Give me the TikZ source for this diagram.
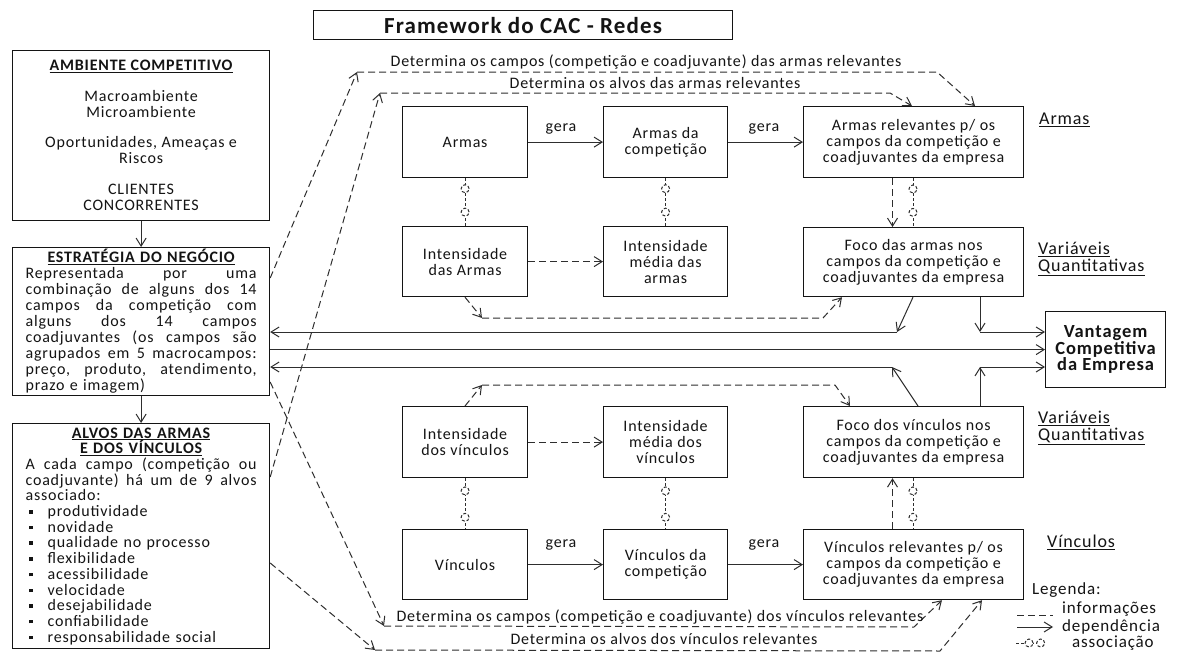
\documentclass[tikz,border=0pt]{standalone}
\usepackage{fontspec}
\setmainfont{Carlito}[LetterSpace=5]
\usetikzlibrary{arrows.meta,calc}
\definecolor{ink}{HTML}{141414}
\definecolor{wire}{HTML}{2E2E2E}
% justified line: every word gap stretches by the same amount
\newcommand\jsp{\hspace{0.25em plus 1fil}}
\newcommand\jline[1]{\leavevmode\hbox to 231pt{#1}}
\newcommand\ctrline[1]{\leavevmode\hbox to 231pt{\hfil#1\hfil}}
\newcommand\hd[1]{\textbf{\underline{#1}}}
\newcommand\bul{\makebox[22pt][l]{\hspace{3.5pt}\raisebox{3pt}{\rule{3.5pt}{3.5pt}}}}

\tikzset{
  basefont/.style={font=\fontsize{16}{16}\selectfont, text=ink},
  box/.style={basefont, draw=ink, line width=1.2pt, fill=white, anchor=north west,
              inner sep=0pt, align=center},
  panel/.style={box, inner xsep=13pt, inner ysep=0pt, text width=231pt, align=left},
  lbl/.style={basefont, inner sep=0pt},
  side/.style={font=\fontsize{18}{17}\selectfont, text=ink, inner sep=0pt, anchor=west, align=left},
  legtext/.style={font=\fontsize{17}{17}\selectfont, text=ink, inner sep=0pt, anchor=west},
  tipstyle/.style={-{Straight Barb[length=8pt,width=10pt]}},
  dep/.style={draw=wire, line width=1pt, tipstyle},
  info/.style={draw=wire, line width=1pt, dash pattern=on 7pt off 4pt, tipstyle},
  infoline/.style={draw=wire, line width=1pt, dash pattern=on 7pt off 4pt},
  assoc/.style={draw=wire, line width=1pt, dash pattern=on 3pt off 2pt},
  ring/.style={circle, draw=wire, line width=1pt, fill=white, minimum size=8pt, inner sep=0pt},
}

\begin{document}
\begin{tikzpicture}[x=1pt, y=-1pt]
\fill[white] (0,0) rectangle (1179,653);
\useasboundingbox (0,0) rectangle (1179,653);

% ---------- title ----------
\node[box, minimum width=419pt, minimum height=29pt,
      font=\fontsize{23}{25}\selectfont\bfseries] (title) at (313,10) {Framework do CAC - Redes};

% ---------- left column ----------
\node[box, minimum width=257pt, minimum height=170pt] (amb) at (12,50)
  {\hd{AMBIENTE COMPETITIVO}\\[15pt]
   Macroambiente\\ Microambiente\\[14pt]
   Oportunidades, Ameaças e\\ Riscos\\[15pt]
   CLIENTES\\ CONCORRENTES};

\node[panel, minimum height=148pt] (estr) at (12,247)
  {\ctrline{\hd{ESTRATÉGIA DO NEGÓCIO}}\\
   \jline{Representada\jsp por\jsp uma}\\
   \jline{combinação\jsp de\jsp alguns\jsp dos\jsp 14}\\
   \jline{campos\jsp da\jsp competição\jsp com}\\
   \jline{alguns\jsp dos\jsp 14\jsp campos}\\
   \jline{coadjuvantes\jsp (os\jsp campos\jsp são}\\
   \jline{agrupados\jsp em\jsp 5\jsp macrocampos:}\\
   \jline{preço,\jsp produto,\jsp atendimento,}\\
   prazo e imagem)};

\node[panel, minimum height=225pt, font=\fontsize{16}{15.7}\selectfont] (alvos) at (12,423)
  {\ctrline{\hd{ALVOS DAS ARMAS}}\\
   \ctrline{\hd{E DOS VÍNCULOS}}\\
   \jline{A\jsp cada\jsp campo\jsp (competição\jsp ou}\\
   \jline{coadjuvante)\jsp há\jsp um\jsp de\jsp 9\jsp alvos}\\
   associado:\\
   \bul produtividade\\
   \bul novidade\\
   \bul qualidade no processo\\
   \bul flexibilidade\\
   \bul acessibilidade\\
   \bul velocidade\\
   \bul desejabilidade\\
   \bul confiabilidade\\
   \bul responsabilidade social};

% ---------- armas block ----------
\node[box, minimum width=125pt, minimum height=71pt] (armas) at (402,106) {Armas};
\node[box, minimum width=124pt, minimum height=71pt] (armascomp) at (603,106) {Armas da\\ competição};
\node[box, minimum width=220pt, minimum height=71pt] (armasrel) at (803,106)
  {Armas relevantes p/ os\\ campos da competição e\\ coadjuvantes da empresa};
\node[box, minimum width=125pt, minimum height=70pt] (intarmas) at (402,226) {Intensidade\\ das Armas};
\node[box, minimum width=124pt, minimum height=70pt] (intmedarmas) at (603,226) {Intensidade\\ média das\\ armas};
\node[box, minimum width=220pt, minimum height=69pt] (focoarmas) at (803,227)
  {Foco das armas nos\\ campos da competição e\\ coadjuvantes da empresa};

% ---------- vinculos block ----------
\node[box, minimum width=125pt, minimum height=71pt] (intvinc) at (402,406) {Intensidade\\ dos vínculos};
\node[box, minimum width=124pt, minimum height=71pt] (intmedvinc) at (603,406) {Intensidade\\ média dos\\ vínculos};
\node[box, minimum width=220pt, minimum height=71pt] (focovinc) at (803,406)
  {Foco dos vínculos nos\\ campos da competição e\\ coadjuvantes da empresa};
\node[box, minimum width=125pt, minimum height=70pt] (vinc) at (402,529) {Vínculos};
\node[box, minimum width=124pt, minimum height=70pt] (vinccomp) at (603,529) {Vínculos da\\ competição};
\node[box, minimum width=220pt, minimum height=70pt] (vincrel) at (803,529)
  {Vínculos relevantes p/ os\\ campos da competição e\\ coadjuvantes da empresa};

% ---------- result ----------
\node[box, minimum width=120pt, minimum height=76pt,
      font=\fontsize{18.5}{16.5}\selectfont\bfseries] (vant) at (1045,311)
  {Vantagem\\ Competitiva\\ da Empresa};

% ---------- side captions ----------
\node[side] (capA) at (1039,120) {\underline{Armas}};
\node[side] (capQ1) at (1038,259) {\underline{Variáveis}\\ \underline{Quantitativas}};
\node[side] (capQ2) at (1038,428) {\underline{Variáveis}\\ \underline{Quantitativas}};
\node[side] (capV) at (1047,542) {\underline{Vínculos}};

% ---------- dependencies ----------
\draw[dep] (amb) -- (estr);
\draw[dep] (estr) -- (alvos);
\draw[dep] (armas) -- (armascomp);
\draw[dep] (armascomp) -- (armasrel);
\draw[dep] (vinc) -- (vinccomp);
\draw[dep] (vinccomp) -- (vincrel);
\node[lbl] (gera1) at (561,129) {gera};
\node[lbl] (gera2) at (764,129) {gera};
\node[lbl] (gera3) at (561,545) {gera};
\node[lbl] (gera4) at (764,545) {gera};

% ---------- associations ----------
\draw[assoc] (armas) -- node[ring, pos=0.22] (r1) {} node[ring, pos=0.71] (r2) {} (intarmas);
\draw[assoc] (armascomp) -- node[ring, pos=0.22] (r3) {} node[ring, pos=0.71] (r4) {} (intmedarmas);
\draw[assoc] (913,0 |- armasrel.south) -- node[ring, pos=0.22] (r5) {} node[ring, pos=0.70] (r6) {} (913,0 |- focoarmas.north);
\draw[assoc] (intvinc) -- node[ring, pos=0.25] (r7) {} node[ring, pos=0.77] (r8) {} (vinc);
\draw[assoc] (intmedvinc) -- node[ring, pos=0.25] (r9) {} node[ring, pos=0.77] (r10) {} (vinccomp);
\draw[assoc] (913,0 |- focovinc.south) -- node[ring, pos=0.25] (r11) {} node[ring, pos=0.77] (r12) {} (913,0 |- vincrel.north);

% ---------- information flows inside the blocks ----------
\draw[info] (892.5,0 |- armasrel.south) -- (892.5,0 |- focoarmas.north);
\draw[info] (892.5,0 |- vincrel.north) -- (892.5,0 |- focovinc.south);
\draw[info] (intarmas) -- (intmedarmas);
\draw[info] (intvinc) -- (intmedvinc);

\coordinate (k1) at (482,318);
\coordinate (k1b) at (823,318);
\draw[info] (465,0 |- intarmas.south) -- (k1);
\draw[info] (k1) -- (k1b) -- (842,0 |- focoarmas.south);
\coordinate (k2) at (482,385);
\coordinate (k2b) at (835,385);
\draw[info] (465,0 |- intvinc.north) -- (k2);
\draw[info] (k2) -- (k2b) -- (850,0 |- focovinc.north);

% ---------- links to strategy and to the advantage ----------
\coordinate (j1) at (897,332);
\coordinate (j2) at (892,367);
\coordinate (j3) at (980,332);
\coordinate (j4) at (980,367);
\draw[dep] (913,0 |- focoarmas.south) -- (j1);
\draw[dep] (j1) -- (estr.east |- j1);
\draw[dep] (918,0 |- focovinc.north) -- (j2);
\draw[dep] (j2) -- (estr.east |- j2);
\draw[dep] (estr.east |- vant.west) -- (vant.west);
\draw[dep] (980,0 |- focoarmas.south) -- (j3);
\draw[dep] (j3) -- (vant.west |- j3);
\draw[dep] (980,0 |- focovinc.north) -- (j4);
\draw[dep] (j4) -- (vant.west |- j4);

% ---------- long information flows from the left column ----------
\coordinate (bA) at (357,72);
\coordinate (hA) at (937,72);
\draw[info] (estr.east |- 0,278) -- (bA);
\draw[info] (bA) -- (hA) -- (975,0 |- armasrel.north);
\node[lbl] (tA) at (646,62) {Determina os campos (competição e coadjuvante) das armas relevantes};

\coordinate (bB) at (380,93);
\coordinate (hB) at (890,93);
\draw[info] (alvos.east |- 0,477) -- (bB);
\draw[info] (bB) -- (hB) -- (912,0 |- armasrel.north);
\node[lbl] (tB) at (655,83) {Determina os alvos das armas relevantes};

\coordinate (bC) at (384,626);
\coordinate (hC) at (914,627);
\draw[info] (estr.east |- 0,382) -- (bC);
\draw[info] (bC) -- (hC) -- (942,0 |- vincrel.south);
\node[lbl] (tC) at (660,617) {Determina os campos (competição e coadjuvante) dos vínculos relevantes};

\coordinate (bD) at (375,650);
\coordinate (hD) at (940,651);
\draw[info] (alvos.east |- 0,563) -- (bD);
\draw[info] (bD) -- (hD) -- (982,0 |- vincrel.south);
\node[lbl] (tD) at (664,639) {Determina os alvos dos vínculos relevantes};

% ---------- legend ----------
\node[legtext] (leg) at (1032,590) {Legenda:};
\coordinate (l1a) at (1017,615);
\coordinate (l1b) at (1053,615);
\draw[infoline] (l1a) -- (l1b);
\node[legtext] (leg1) at (1062,609) {informações};
\coordinate (l2a) at (1017,627);
\coordinate (l2b) at (1053,627);
\draw[dep] (l2a) -- (l2b);
\node[legtext] (leg2) at (1062,627) {dependência};
\coordinate (l3a) at (1016,643);
\coordinate (l3b) at (1045,643);
\draw[assoc] (l3a) -- node[ring, pos=0.45] (lr1) {} node[ring, pos=0.85] (lr2) {} (l3b);
\node[legtext] (leg3) at (1072,643) {associação};
\end{tikzpicture}
\end{document}
